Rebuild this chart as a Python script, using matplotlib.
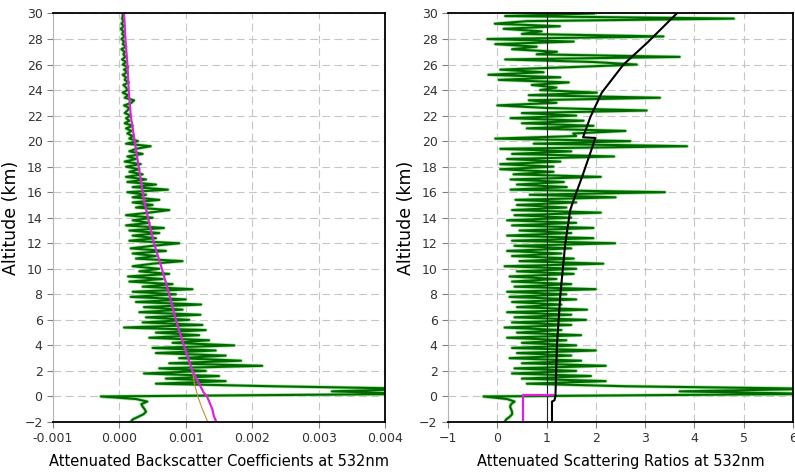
import numpy as np
import matplotlib
matplotlib.use("Agg")
import matplotlib.pyplot as plt
from matplotlib.ticker import MultipleLocator, FormatStrFormatter

# altitude bins of the lidar profiles (km), every 0.2 km from -2 to 30
alt_bins = np.round(np.arange(-2.0, 30.01, 0.2), 1)

# attenuated backscatter at 532nm, in 1e-3 /km/sr  (one row = 2 km)
bsc_532 = [
    0.17, 0.20, 0.28, 0.36, 0.40, 0.38, 0.35, 0.33, 0.42, 0.25,   # -2
    -0.28, 4.5, 3.2, 4.5, 2.3, 0.55, 1.6, 0.7, 1.5, 0.37,         # 0
    1.3, 0.6, 2.15, 0.75, 1.83, 0.9, 1.6, 0.55, 1.45, 0.5,        # 2
    1.73, 0.8, 1.35, 0.45, 1.2, 0.55, 1.3, 0.07, 1.25, 0.35,      # 4
    1.05, 0.4, 1.22, 0.3, 0.95, 0.37, 1.23, 0.25, 1.0, 0.17,      # 6
    0.85, 0.2, 1.1, 0.35, 0.8, 0.15, 0.65, 0.13, 0.75, 0.3,       # 8
    0.6, 0.2, 0.5, 0.95, 0.25, 0.55, 0.2, 0.7, 0.17, 0.5,         # 10
    0.9, 0.15, 0.55, 0.2, 0.6, 0.15, 0.67, 0.1, 0.45, 0.2,        # 12
    0.5, 0.1, 0.45, 0.75, 0.25, 0.5, 0.2, 0.6, 0.2, 0.4,          # 14
    0.12, 0.73, 0.2, 0.55, 0.12, 0.4, 0.1, 0.35, 0.15, 0.3,       # 16
    0.1, 0.32, 0.08, 0.25, 0.12, 0.35, 0.15, 0.25, 0.47, 0.1,     # 18
    0.28, 0.15, 0.2, 0.12, 0.18, 0.1, 0.2, 0.08, 0.15, 0.1,       # 20
    0.17, 0.08, 0.12, 0.15, 0.07, 0.18, 0.22, 0.08, 0.13, 0.05,   # 22
    0.12, 0.1, 0.06, 0.14, 0.08, 0.1, 0.05, 0.12, 0.07, 0.13,     # 24
    0.05, 0.1, 0.04, 0.09, 0.06, 0.08, 0.03, 0.1, 0.05, 0.07,     # 26
    0.03, 0.08, 0.04, 0.06, 0.02, 0.07, 0.03, 0.06, 0.04, 0.05,   # 28
    0.05,                                                         # 30
]

# attenuated scattering ratio at 532nm
ratio_532 = [
    0.15, 0.18, 0.25, 0.30, 0.30, 0.28, 0.26, 0.28, 0.35, 0.2,    # -2
    -0.28, 6.5, 3.7, 6.5, 2.6, 0.6, 2.2, 0.5, 1.9, 0.3,           # 0
    1.6, 0.35, 2.2, 0.5, 1.7, 0.25, 1.5, 0.4, 2.0, 0.3,           # 2
    1.6, 0.5, 1.4, 0.2, 1.7, 0.4, 1.3, 0.15, 1.5, 0.3,            # 4
    1.8, 0.35, 1.5, 0.2, 1.82, 0.4, 1.3, 0.3, 1.6, 0.25,          # 6
    1.4, 0.2, 2.0, 0.35, 1.5, 0.3, 1.2, 0.25, 1.55, 0.4,          # 8
    1.6, 0.15, 2.15, 0.45, 1.55, 0.3, 1.3, 0.2, 1.5, 0.35,        # 10
    2.39, 0.3, 1.95, 0.2, 1.5, 0.45, 1.95, 0.3, 1.6, 0.2,         # 12
    1.5, 0.35, 2.1, 0.3, 1.4, 0.4, 1.6, 0.37, 2.4, 0.66,          # 14
    3.4, 0.27, 1.41, 0.4, 1.35, 0.27, 2.1, 0.33, 1.14, 0.06,      # 16
    1.14, 0.06, 1.28, 0.2, 2.37, 0.3, 1.5, 0.06, 3.85, 0.74,      # 18
    2.7, -0.04, 1.6, 1.54, 2.6, 0.6, 1.95, 0.5, 1.75, 0.27,       # 20
    1.6, 0.5, 3.03, 1.0, 0.0, 1.2, 0.64, 3.3, 0.64, 2.02,         # 22
    0.87, 1.2, 0.7, 1.45, 0.03, 1.28, -0.18, 0.94, 0.06, 1.5,     # 24
    2.83, 1.95, 0.16, 3.7, 0.8, 1.21, 0.3, 0.8, -0.04, 1.55,      # 26
    -0.2, 3.37, 0.5, 0.9, 0.13, 1.27, -0.05, 0.6, 4.8, 0.16,      # 28
    1.96,                                                         # 30
]

# molecular backscatter (1e-3 /km/sr)
mol_alt = [-2, -1.5, -1.0, -0.5, 0, 0.3, 2, 4, 6, 8, 10, 12, 14, 15.4, 18, 20, 22, 24, 26, 28, 30]
mol_bsc = [1.46, 1.42, 1.40, 1.36, 1.32, 1.27, 1.10, 0.97, 0.85, 0.75, 0.64, 0.52, 0.43, 0.37,
           0.29, 0.23, 0.17, 0.14, 0.12, 0.09, 0.07]

# attenuated molecular backscatter near the surface
att_alt = [-2, -1, 0, 1, 2]
att_bsc = [1.33, 1.25, 1.18, 1.13, 1.10]

# right panel: surface step and reference ratio curve
step_alt = [-2, 0.1, 0.1]
step_ratio = [0.53, 0.53, 1.13]
ref_alt = [-2, -0.4, -0.3, 0, 4, 8, 12, 14.6, 15.4, 17.2, 19.1, 20.25, 20.3, 21.9, 23.8, 26, 27.7, 30]
ref_ratio = [1.11, 1.11, 1.16, 1.18, 1.21, 1.28, 1.38, 1.48, 1.55, 1.72, 1.89, 1.99, 1.74, 1.89,
             2.12, 2.56, 3.04, 3.64]

assert len(bsc_532) == len(alt_bins) and len(ratio_532) == len(alt_bins)

DARK_GREEN = "#006a00"
LIGHT_GREEN = "#a8e6a2"

fig = plt.figure(figsize=(7.95, 4.75), dpi=100)
ax1 = fig.add_axes([0.0667, 0.1116, 0.4176, 0.86])
ax2 = fig.add_axes([0.5635, 0.1116, 0.434, 0.86])


def style(ax):
    ax.set_axisbelow(True)
    ax.grid(True, color="#c6c6c6", linestyle=(0, (7, 4)), linewidth=0.8)
    ax.set_ylim(-2, 30)
    ax.yaxis.set_major_locator(MultipleLocator(2))
    for s in ["top", "bottom", "right"]:
        ax.spines[s].set_color("black")
        ax.spines[s].set_linewidth(1.3)
    ax.spines["left"].set_color("#b4b4b4")
    ax.tick_params(direction="out", length=4, color="#808080", labelcolor="#333333", labelsize=9)
    ax.set_ylabel("Altitude (km)", fontsize=12.5, labelpad=3)


# left: backscatter coefficients
ax1.plot(np.array(bsc_532) * 1e-3, alt_bins, color=LIGHT_GREEN, lw=2.6)
ax1.plot(np.array(bsc_532) * 1e-3, alt_bins, color=DARK_GREEN, lw=1.5)
ax1.plot(np.array(att_bsc) * 1e-3, att_alt, color="#c88a3c", lw=0.8)
ax1.plot(np.array(mol_bsc) * 1e-3, mol_alt, color="#e020e0", lw=1.6)
ax1.set_xlim(-0.001, 0.004)
ax1.xaxis.set_major_locator(MultipleLocator(0.001))
ax1.xaxis.set_major_formatter(FormatStrFormatter("%.3f"))
style(ax1)
ax1.set_xlabel("Attenuated Backscatter Coefficients at 532nm", fontsize=10.5, labelpad=6)

# right: scattering ratios
ax2.plot(ratio_532, alt_bins, color=LIGHT_GREEN, lw=2.6)
ax2.plot(ratio_532, alt_bins, color=DARK_GREEN, lw=1.5)
ax2.axvline(1, color="#202020", lw=0.8)
ax2.plot(step_ratio, step_alt, color="#e020e0", lw=1.6)
ax2.plot(ref_ratio, ref_alt, color="black", lw=1.5)
ax2.set_xlim(-1, 6)
ax2.xaxis.set_major_locator(MultipleLocator(1))
style(ax2)
ax2.set_xlabel("Attenuated Scattering Ratios at 532nm", fontsize=10.5, labelpad=6)

fig.savefig("out.png", dpi=100)
